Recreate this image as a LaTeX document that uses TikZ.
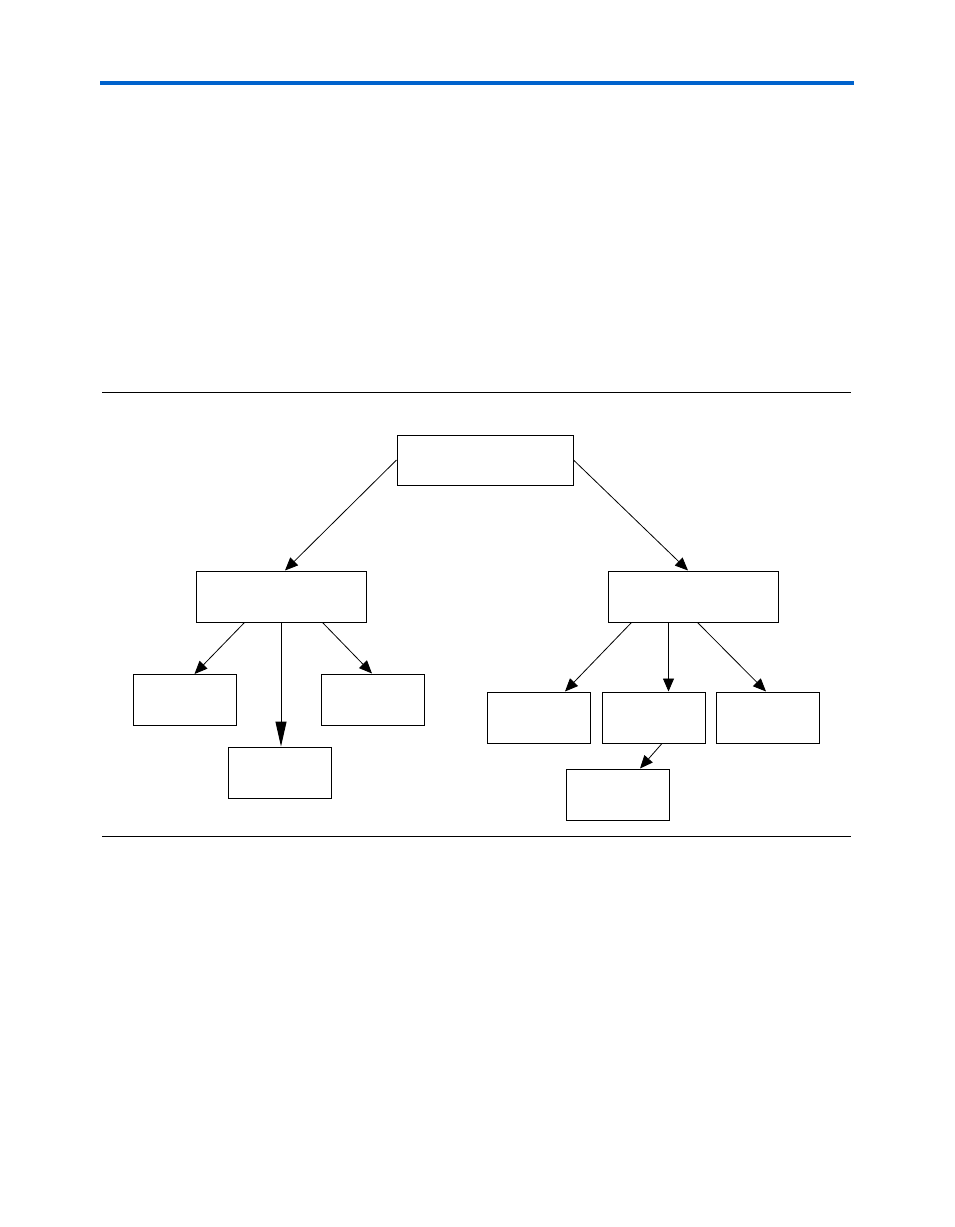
\documentclass[tikz,border=0pt]{standalone}
\usetikzlibrary{arrows.meta}
\usepackage{xcolor}
\definecolor{headblue}{HTML}{0062CC}

\begin{document}
\begin{tikzpicture}[x=1pt,y=-1pt,
    box/.style={draw=black,fill=white,line width=1pt,inner sep=0pt,
      minimum height=51pt,minimum width=103pt},
    wide/.style={box,minimum width=170pt},
    a/.style={-{Triangle[length=13pt,width=11pt]},line width=0.8pt},
    along/.style={-{Triangle[length=25pt,width=11pt]},line width=1pt},
    rule/.style={line width=0.8pt}]
    \useasboundingbox[fill=white] (0,0) rectangle (954,1227);
    \draw[headblue,line width=4pt] (100,82.5) -- (854,82.5);
    \draw[rule] (102,392) -- (851,392);
    \draw[rule] (102,836) -- (851,836);
    \node[box,minimum width=176pt,minimum height=50pt] (root) at (485,460) {};
    \node[wide] (lmid) at (281,596.5) {};
    \node[wide] (rmid) at (693,596.5) {};
    \node[box] (lone) at (184.5,700) {};
    \node[box] (ltwo) at (279.5,772.5) {};
    \node[box] (lthree) at (373,699.5) {};
    \node[box] (rone) at (539,717.5) {};
    \node[box] (rtwo) at (654,717.5) {};
    \node[box] (rthree) at (768,717.5) {};
    \node[box] (rfour) at (618,794.5) {};
    \coordinate (rsplit) at ([xshift=61pt]rmid.south west);
    \draw[a] (root.west) -- ([xshift=4pt]lmid.north);
    \draw[a] (root.east) -- ([xshift=-5pt]rmid.north);
    \draw[a] ([xshift=49pt]lmid.south west) -- ([xshift=10pt]lone.north);
    \draw[along] (lmid.south) -- (ltwo.north -| lmid.south);
    \draw[a] ([xshift=-44pt]lmid.south east) -- ([xshift=-1pt]lthree.north);
    \draw[a] ([xshift=24pt]rmid.south west) -- ([xshift=26pt]rone.north);
    \draw[a] (rsplit) -- (rtwo.north -| rsplit);
    \draw[a] ([xshift=-81pt]rmid.south east) -- ([xshift=-2pt]rthree.north);
    \draw[a] ([xshift=8pt]rtwo.south) -- ([xshift=22pt]rfour.north);
\end{tikzpicture}
\end{document}
